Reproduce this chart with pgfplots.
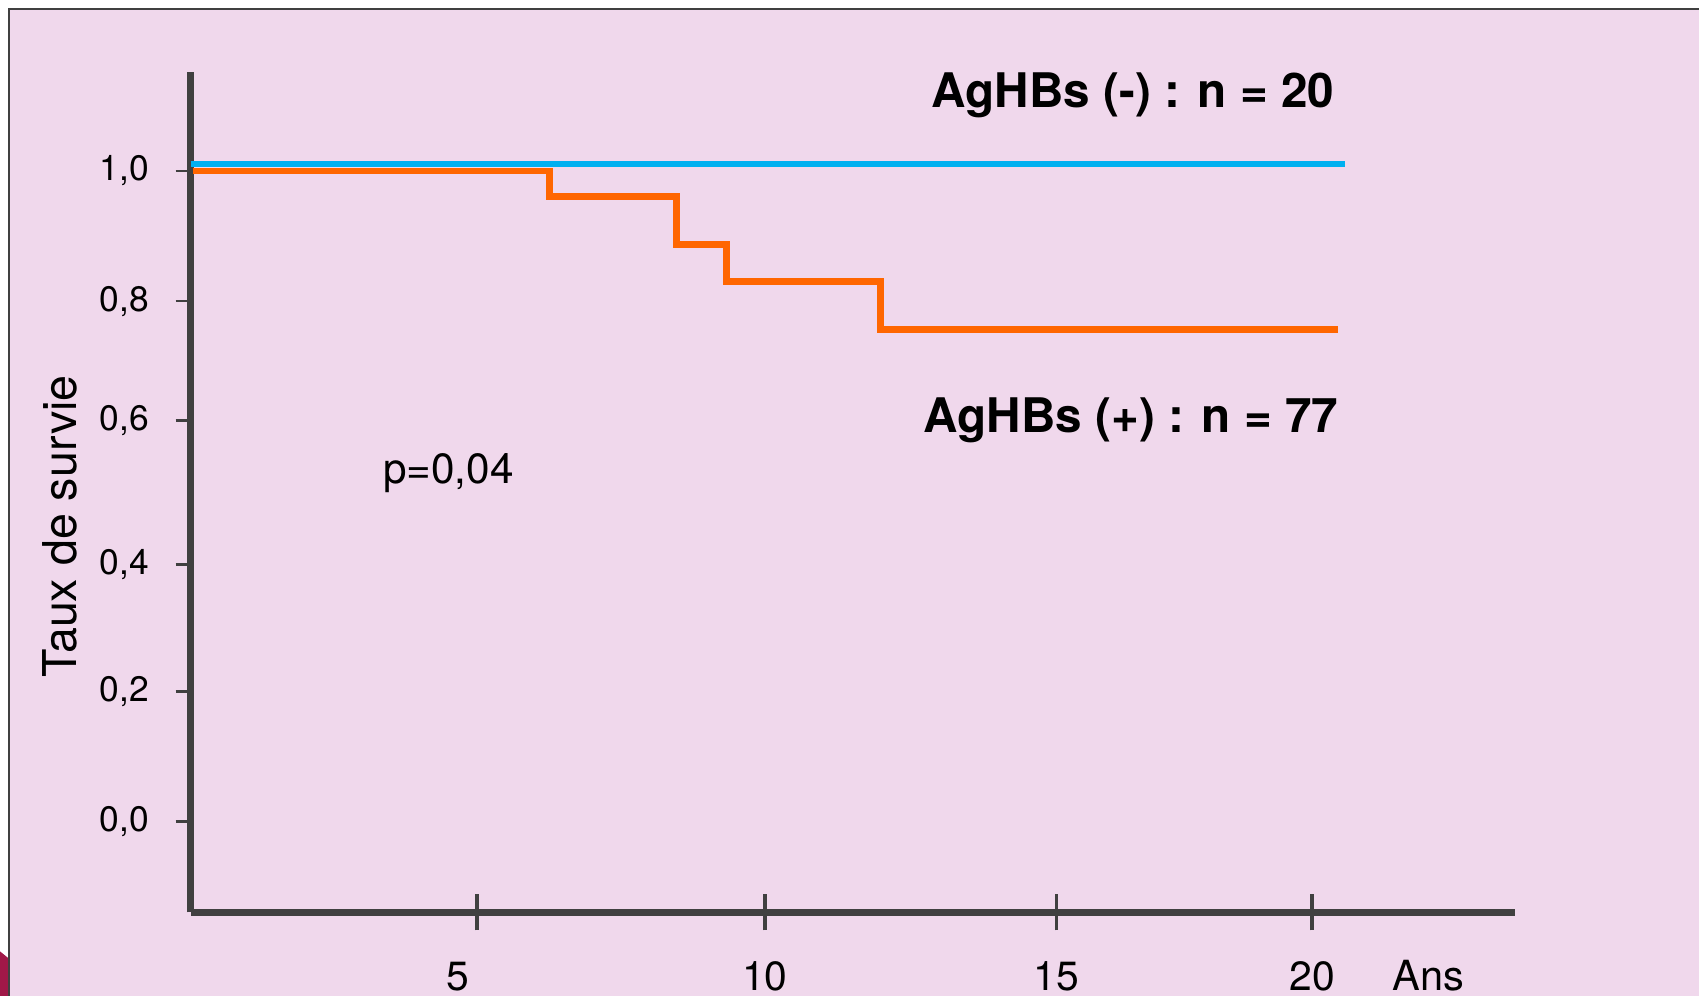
\documentclass[border=0pt]{standalone}
\usepackage{fontspec}
\setmainfont{TeX Gyre Heros}
\usepackage{pgfplots}
\pgfplotsset{compat=1.18}
\definecolor{bgpink}{RGB}{240,216,236}
\definecolor{axisgray}{RGB}{64,64,64}
\definecolor{lblue}{RGB}{0,176,240}
\definecolor{lorange}{RGB}{255,102,0}
\definecolor{crim}{RGB}{160,24,72}
\begin{document}
\begin{tikzpicture}
\fill[white] (-52.8pt,-23.1pt) rectangle (417.6pt,252.6pt);
\path[use as bounding box] (-52.8pt,-23.1pt) rectangle (417.6pt,252.6pt);
\fill[bgpink] (-50.3pt,-23.1pt) rectangle (417.6pt,250.1pt);
\draw[axisgray, line width=0.7pt] (-50.3pt,-23.1pt) -- (-50.3pt,250.1pt) -- (417.6pt,250.1pt);
\fill[crim] (-52.8pt,-10.8pt) -- (-50.6pt,-12.6pt) -- (-50.6pt,-23.1pt) -- (-52.8pt,-23.1pt) -- cycle;
\begin{axis}[
  scale only axis, width=366.6pt, height=232.8pt,
  xmin=0, xmax=22.97, ymin=-0.14, ymax=1.153,
  clip=false,
  axis lines=left,
  axis line style={-, axisgray, line width=1.85pt},
  xtick=\empty,
  extra x ticks={4.962,9.962,15.019,19.455},
  extra x tick labels={\makebox[0pt][c]{5\hspace{10.2pt}},10,15,20},
  extra x tick style={tick align=center, major tick length=10pt,
     tick style={axisgray, line width=1pt}},
  xticklabel style={anchor=base, yshift=-16.5pt, font=\fontsize{11.3}{13}\selectfont, text=black},
  ytick={0,0.2,0.395,0.6167,0.8,1.0},
  yticklabels={{0,0},{0,2},{0,4},{0,6},{0,8},{1,0}},
  tick align=outside, major tick length=4.2pt,
  ytick style={axisgray, line width=0.7pt},
  yticklabel style={anchor=east, xshift=-3.9pt, font=\fontsize{9.8}{11}\selectfont, text=black},
]
\addplot[lorange, line width=1.9pt, const plot] coordinates {
  (0.045,1.0) (6.222,0.9613) (8.425,0.8875) (9.291,0.8305) (11.964,0.7567) (19.904,0.7567)};
\addplot[lblue, line width=1.9pt, const plot] coordinates {
  (0,1.0107) (20.024,1.0107)};
\node[anchor=base east, inner sep=0pt, font=\bfseries\fontsize{13.2}{15}\selectfont] at (axis cs:19.85,1.098) {AgHBs (-) : n = 20};
\node[anchor=base east, inner sep=0pt, font=\bfseries\fontsize{13.2}{15}\selectfont] at (axis cs:19.92,0.598) {AgHBs (+) : n = 77};
\node[anchor=base west, inner sep=0pt, font=\fontsize{11.7}{13}\selectfont] at (axis cs:3.327,0.52) {p=0,04};
\node[anchor=base, inner sep=0pt, font=\fontsize{11.5}{13}\selectfont] at (axis cs:21.47,-0.26) {Ans};
\node[rotate=90, inner sep=0pt, font=\fontsize{12.9}{15}\selectfont] at (axis cs:-2.265,0.4533) {Taux de survie};
\end{axis}
\end{tikzpicture}
\end{document}
